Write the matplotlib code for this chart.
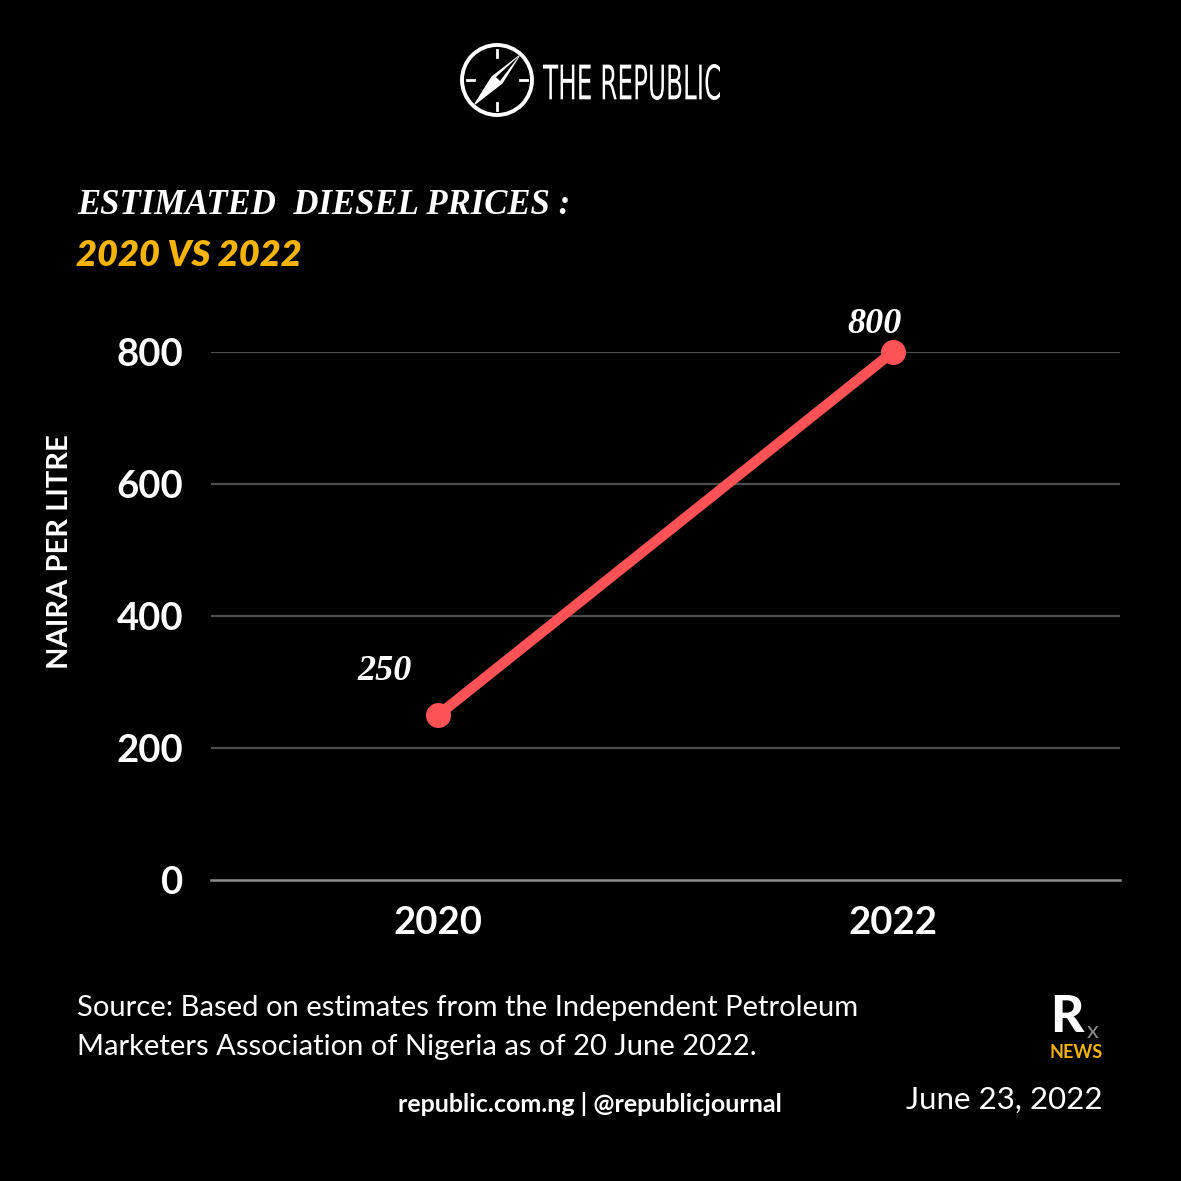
import matplotlib
matplotlib.use("Agg")
import matplotlib.pyplot as plt
from matplotlib.patches import Circle, Polygon, PathPatch
from matplotlib.textpath import TextPath
from matplotlib.font_manager import FontProperties
from matplotlib.transforms import Affine2D
import numpy as np

years = ["2020", "2022"]
prices = [250, 800]
yticks = [0, 200, 400, 600, 800]

W = 1181
fig = plt.figure(figsize=(11.81, 11.81), dpi=100, facecolor="black")

def fx(px):
    return px / W

def fy(py):
    return 1 - py / W

ax = fig.add_axes([fx(211), fy(880), fx(1120) - fx(211), fy(352) - fy(880)])
ax.set_facecolor("black")
x = np.arange(len(years))
ax.plot(x, prices, color="#FF5257", lw=7.5, marker="o", markersize=17,
        solid_capstyle="round", clip_on=False, zorder=3)
ax.set_xlim(-0.5, 1.5)
ax.set_ylim(0, 800)
ax.set_yticks(yticks)
ax.set_yticklabels([str(v) for v in yticks], fontfamily="Lato", fontweight="bold",
                   fontsize=27.5, color="white")
ax.set_xticks(x)
ax.set_xticklabels(years, fontfamily="Lato", fontweight="bold", fontsize=27.5, color="white")
ax.tick_params(axis="both", length=0)
ax.tick_params(axis="y", pad=20)
ax.tick_params(axis="x", pad=19)
for v in yticks[1:]:
    ax.axhline(v, color="#4d4d4d", lw=1.6, zorder=1)
for s in ["top", "right", "left"]:
    ax.spines[s].set_visible(False)
ax.spines["bottom"].set_color("#8c8c8c")
ax.spines["bottom"].set_linewidth(1.8)

offsets = [(-54, 27), (-18, 11)]
for xi, v, (dx, dy) in zip(x, prices, offsets):
    ax.annotate(str(v), (xi, v), xytext=(dx, dy), textcoords="offset pixels",
                fontsize=26, fontstyle="italic", fontweight="bold",
                fontfamily="Liberation Serif", color="white", ha="center", va="bottom")

fig.text(fx(60), fy(552), "NAIRA PER LITRE", rotation=90, fontfamily="Lato",
         fontweight="bold", fontsize=21, color="white", ha="center", va="center")

# Titles
fig.text(fx(77), fy(206), "ESTIMATED  DIESEL PRICES :", fontfamily="Liberation Serif",
         fontweight="bold", fontstyle="italic", fontsize=25, color="white",
         ha="left", va="center")
fig.text(fx(76), fy(255), "2020 VS 2022", fontfamily="Lato",
         fontweight="heavy", fontstyle="italic", fontsize=26, color="#F5B400",
         ha="left", va="center")

# Source & footer
fig.text(fx(77), fy(1008), "Source: Based on estimates from the Independent Petroleum",
         fontfamily="Lato", fontsize=21, color="white", ha="left", va="center")
fig.text(fx(77), fy(1047), "Marketers Association of Nigeria as of 20 June 2022.",
         fontfamily="Lato", fontsize=21, color="white", ha="left", va="center")
fig.text(fx(590), fy(1104), "republic.com.ng | @republicjournal", fontfamily="Lato",
         fontweight="bold", fontsize=18, color="white", ha="center", va="center")
fig.text(fx(1103), fy(1100), "June 23, 2022", fontfamily="Lato", fontsize=22.5,
         color="white", ha="right", va="center")

# Rx NEWS logo
fig.text(fx(1050), fy(1017), "R", fontfamily="Lato", fontweight="black", fontsize=37,
         color="white", ha="left", va="center")
fig.text(fx(1087), fy(1031), "x", fontfamily="Lato", fontsize=17, color="#8a8a8a",
         ha="left", va="center")
fig.text(fx(1076), fy(1052), "NEWS", fontfamily="Lato", fontweight="bold", fontsize=13,
         color="#F5B400", ha="center", va="center")

# The Republic header logo
ov = fig.add_axes([0, 0, 1, 1], facecolor="none")
ov.set_xlim(0, W)
ov.set_ylim(W, 0)
ov.set_axis_off()
cx, cy, r = 497, 80, 35
ov.add_patch(Circle((cx, cy), r, fill=False, ec="white", lw=2.8))
for ang in [0, 90, 180, 270]:
    a = np.deg2rad(ang)
    ov.plot([cx + (r - 12) * np.cos(a), cx + (r - 5) * np.cos(a)],
            [cy + (r - 12) * np.sin(a), cy + (r - 5) * np.sin(a)], color="white", lw=2)
tip1 = (cx + 22, cy - 24)
tip2 = (cx - 22, cy + 24)
ov.add_patch(Polygon([tip1, (cx + 5, cy + 3), tip2, (cx - 5, cy - 3)], closed=True,
                     fc="white", ec="white", lw=1))
ov.add_patch(Polygon([tip1, (cx + 3, cy + 1), (cx - 1, cy - 3)], closed=True,
                     fc="black", ec="none"))

tp = TextPath((0, 0), "THE REPUBLIC", size=10,
              prop=FontProperties(family="DejaVu Sans", weight="normal"))
ext = tp.get_extents()
target_w, target_h = 177, 36
sx = target_w / ext.width
sy = target_h / ext.height
trans = Affine2D().translate(-ext.x0, -ext.y0).scale(sx, -sy).translate(543, 100)
ov.add_patch(PathPatch(trans.transform_path(tp), fc="white", ec="none"))

fig.savefig("out.png", dpi=100, facecolor="black")
